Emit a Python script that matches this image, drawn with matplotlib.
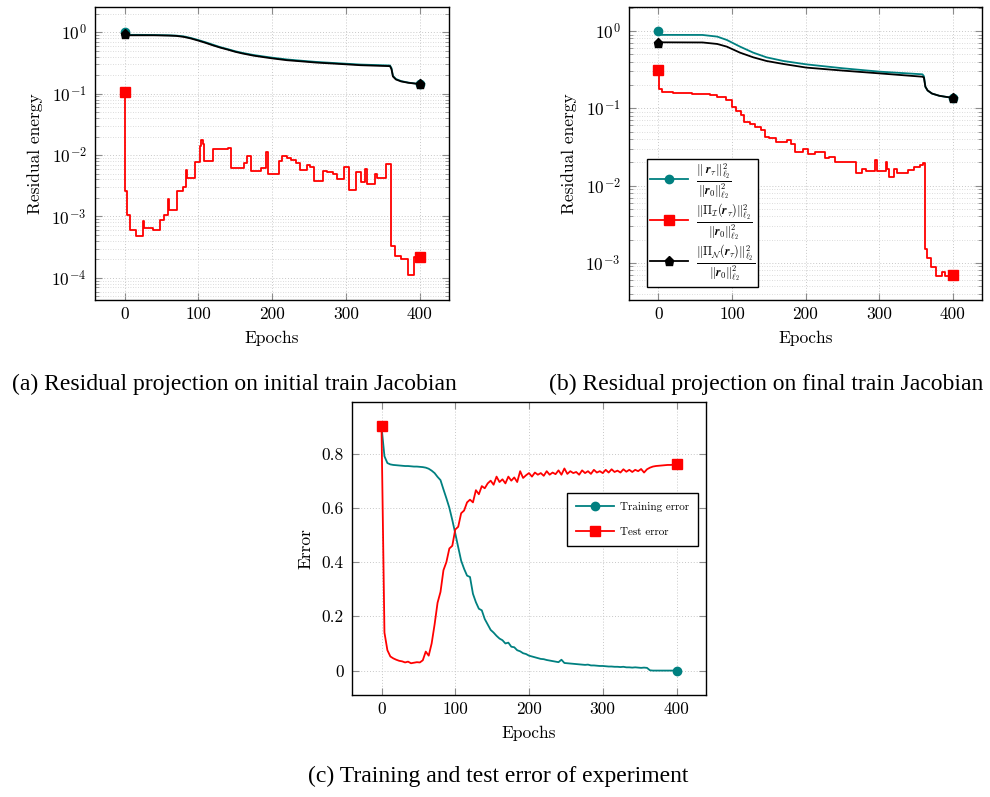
import matplotlib
matplotlib.use("Agg")
import matplotlib.pyplot as plt
from matplotlib.ticker import LogLocator, NullFormatter

plt.rcParams["font.family"] = "serif"
plt.rcParams["font.serif"] = ["cmr10"]
plt.rcParams["mathtext.fontset"] = "cm"
plt.rcParams["axes.formatter.use_mathtext"] = True

TEAL = "#008080"
RED = "#ff0000"
BLACK = "#000000"

# ---- (a) projection on the initial train Jacobian ----
a_full_epochs = [0, 1, 20, 40, 60, 70, 80, 90, 100, 110, 120, 130, 140, 150, 160, 175, 190,
                 200, 220, 240, 260, 280, 300, 320, 340, 360, 362, 364, 368, 375, 385, 400]
a_full_values = [1.0, 0.905, 0.905, 0.90, 0.89, 0.88, 0.855, 0.805, 0.745, 0.685, 0.625, 0.57,
                 0.53, 0.49, 0.46, 0.425, 0.40, 0.385, 0.36, 0.343, 0.328, 0.317, 0.307, 0.297,
                 0.292, 0.287, 0.26, 0.195, 0.173, 0.16, 0.151, 0.143]

a_null_epochs = [0, 1, 20, 40, 60, 70, 80, 90, 100, 110, 120, 130, 140, 150, 160, 175, 190,
                 200, 220, 240, 260, 280, 300, 320, 340, 360, 362, 364, 368, 375, 385, 400]
a_null_values = [0.92, 0.89, 0.89, 0.89, 0.88, 0.87, 0.84, 0.79, 0.73, 0.67, 0.61, 0.56,
                 0.52, 0.48, 0.45, 0.415, 0.39, 0.375, 0.35, 0.335, 0.32, 0.31, 0.30, 0.29,
                 0.285, 0.28, 0.25, 0.19, 0.17, 0.158, 0.15, 0.143]

a_img_epochs = [0, 1, 3, 7, 15, 25, 27, 38, 48, 53, 59, 60, 71, 79, 83, 85, 95, 102, 104, 106,
                108, 120, 130, 141, 144, 162, 166, 172, 185, 192, 195, 209, 214, 220, 226, 232,
                238, 248, 252, 257, 269, 275, 283, 288, 298, 304, 314, 320, 326, 329, 340, 343,
                354, 362, 367, 375, 385, 393, 400]
a_img_values = [0.105, 2.6e-3, 1.07e-3, 6.1e-4, 4.8e-4, 8.3e-4, 6.6e-4, 6.1e-4, 8.9e-4, 1.07e-3,
                1.9e-3, 1.26e-3, 2.6e-3, 3.0e-3, 5.8e-3, 4.2e-3, 7.7e-3, 1.4e-2, 1.73e-2, 1.5e-2,
                7.9e-3, 1.27e-2, 1.25e-2, 1.3e-2, 6.1e-3, 7.4e-3, 9.5e-3, 5.4e-3, 6.1e-3, 1.1e-2,
                5.0e-3, 8.1e-3, 9.8e-3, 9.0e-3, 8.3e-3, 7.5e-3, 5.8e-3, 6.8e-3, 6.3e-3, 3.8e-3,
                5.6e-3, 5.3e-3, 5.0e-3, 4.0e-3, 6.3e-3, 2.7e-3, 5.2e-3, 3.6e-3, 6.0e-3, 3.4e-3,
                5.0e-3, 4.3e-3, 7.2e-3, 3.3e-4, 2.3e-4, 2.0e-4, 1.1e-4, 2.2e-4, 2.2e-4]

# ---- (b) projection on the final train Jacobian ----
b_full_epochs = [0, 1, 60, 80, 93, 111, 129, 147, 170, 201, 251, 300, 359, 361, 363, 366, 372,
                 382, 392, 400]
b_full_values = [1.0, 0.89, 0.888, 0.845, 0.765, 0.627, 0.524, 0.456, 0.409, 0.37, 0.329, 0.298,
                 0.275, 0.26, 0.19, 0.17, 0.155, 0.145, 0.14, 0.137]

b_null_epochs = [0, 1, 60, 80, 93, 111, 129, 147, 170, 201, 251, 300, 359, 361, 363, 366, 372,
                 382, 392, 400]
b_null_values = [0.69, 0.713, 0.71, 0.679, 0.627, 0.524, 0.456, 0.409, 0.374, 0.336, 0.307, 0.283,
                 0.256, 0.25, 0.19, 0.17, 0.155, 0.145, 0.14, 0.137]

b_img_epochs = [0, 1, 5, 20, 45, 70, 80, 92, 100, 106, 112, 117, 125, 131, 140, 145, 150, 160,
                175, 180, 186, 196, 204, 213, 226, 232, 240, 268, 277, 282, 295, 297, 309, 311,
                314, 320, 324, 340, 348, 356, 360, 362, 365, 371, 378, 386, 390, 400]
b_img_values = [0.313, 0.176, 0.162, 0.158, 0.153, 0.149, 0.141, 0.128, 0.105, 0.092, 0.082,
                0.067, 0.062, 0.058, 0.052, 0.043, 0.041, 0.037, 0.039, 0.035, 0.0275, 0.030,
                0.026, 0.0275, 0.0225, 0.0236, 0.0204, 0.0144, 0.0162, 0.0156, 0.0215, 0.0156,
                0.0199, 0.0162, 0.0130, 0.0166, 0.0144, 0.0159, 0.0175, 0.0184, 0.0194, 0.0015,
                0.00115, 0.00088, 0.00068, 0.00077, 0.00068, 0.00069]

# ---- (c) training / test error, sampled every 4 epochs ----
c_epochs = list(range(0, 401, 4))
c_train = [0.900, 0.790, 0.765, 0.760, 0.758, 0.757, 0.756, 0.755, 0.754, 0.754,
           0.753, 0.752, 0.752, 0.751, 0.750, 0.748, 0.744, 0.737, 0.728, 0.714,
           0.702, 0.668, 0.635, 0.600, 0.555, 0.506, 0.455, 0.405, 0.375, 0.350,
           0.345, 0.283, 0.252, 0.228, 0.222, 0.190, 0.170, 0.150, 0.140, 0.128,
           0.118, 0.112, 0.100, 0.103, 0.088, 0.086, 0.075, 0.071, 0.064, 0.061,
           0.055, 0.052, 0.049, 0.046, 0.043, 0.042, 0.039, 0.037, 0.035, 0.033,
           0.031, 0.040, 0.028, 0.027, 0.026, 0.025, 0.024, 0.023, 0.022, 0.021,
           0.022, 0.019, 0.019, 0.018, 0.017, 0.017, 0.016, 0.015, 0.015, 0.014,
           0.014, 0.013, 0.014, 0.012, 0.012, 0.011, 0.012, 0.011, 0.010, 0.011,
           0.010, 0.001, 0.000, 0.000, 0.000, 0.000, 0.000, 0.000, 0.000, 0.000,
           0.000]
c_test = [0.900, 0.140, 0.075, 0.052, 0.045, 0.040, 0.036, 0.034, 0.030, 0.033,
          0.027, 0.029, 0.031, 0.030, 0.038, 0.070, 0.055, 0.100, 0.170, 0.250,
          0.290, 0.370, 0.400, 0.450, 0.460, 0.520, 0.530, 0.580, 0.590, 0.620,
          0.630, 0.620, 0.665, 0.650, 0.680, 0.672, 0.690, 0.700, 0.685, 0.715,
          0.695, 0.705, 0.690, 0.715, 0.700, 0.712, 0.695, 0.735, 0.710, 0.720,
          0.728, 0.715, 0.730, 0.722, 0.728, 0.718, 0.735, 0.722, 0.730, 0.724,
          0.738, 0.722, 0.745, 0.725, 0.735, 0.728, 0.732, 0.722, 0.738, 0.728,
          0.735, 0.725, 0.740, 0.730, 0.735, 0.728, 0.740, 0.730, 0.742, 0.732,
          0.737, 0.730, 0.742, 0.733, 0.740, 0.732, 0.740, 0.735, 0.743, 0.730,
          0.742, 0.748, 0.752, 0.754, 0.755, 0.756, 0.757, 0.758, 0.758, 0.759,
          0.760]

x_ticks = [0, 100, 200, 300, 400]
a_yticks = [1e-4, 1e-3, 1e-2, 1e-1, 1e0]
a_ylabels = [r"$10^{-4}$", r"$10^{-3}$", r"$10^{-2}$", r"$10^{-1}$", r"$10^{0}$"]
b_yticks = [1e-3, 1e-2, 1e-1, 1e0]
b_ylabels = [r"$10^{-3}$", r"$10^{-2}$", r"$10^{-1}$", r"$10^{0}$"]
c_yticks = [0, 0.2, 0.4, 0.6, 0.8]
c_ylabels = ["0", "0.2", "0.4", "0.6", "0.8"]

legend_b = [
    r"$\frac{\|\ \boldsymbol{r}_\tau\|_{\ell_2}^2}{\|\boldsymbol{r}_0\|_{\ell_2}^2}$",
    r"$\frac{\|\Pi_\mathcal{I}(\boldsymbol{r}_\tau)\|_{\ell_2}^2}{\|\boldsymbol{r}_0\|_{\ell_2}^2}$",
    r"$\frac{\|\Pi_\mathcal{N}(\boldsymbol{r}_\tau)\|_{\ell_2}^2}{\|\boldsymbol{r}_0\|_{\ell_2}^2}$",
]
legend_c = ["Training error", "Test error"]

W, H = 990, 797


def px_axes(fig, x0, y0, x1, y1):
    # pixel box (top-left origin) -> figure axes
    return fig.add_axes([x0 / W, 1 - y1 / H, (x1 - x0) / W, (y1 - y0) / H])


def style(ax, log=False):
    ax.set_xlim(-40, 440)
    ax.set_xticks(x_ticks)
    ax.set_xticklabels([str(t) for t in x_ticks])
    ax.tick_params(which="both", direction="in", top=True, right=True,
                   color="#8c8c8c", labelsize=12.5)
    ax.tick_params(axis="x", which="major", length=5, width=0.8, pad=5)
    ax.tick_params(axis="y", which="major", length=5, width=0.8, pad=6)
    ax.tick_params(which="minor", length=3, width=0.6)
    ax.grid(which="major", color="#c8c8c8", linestyle=(0, (1, 2)), linewidth=0.7)
    if log:
        ax.yaxis.set_minor_locator(LogLocator(base=10, subs=range(2, 10), numticks=50))
        ax.yaxis.set_minor_formatter(NullFormatter())
        ax.grid(which="minor", axis="y", color="#d0d0d0", linestyle=(0, (1, 2)), linewidth=0.6)
    ax.set_axisbelow(True)
    for s in ax.spines.values():
        s.set_linewidth(1.0)
    ax.set_xlabel("Epochs", fontsize=12.5, labelpad=6)


fig = plt.figure(figsize=(W / 100, H / 100), dpi=100)
lw = 1.3

# (a)
ax = px_axes(fig, 95, 7, 449, 300)
ax.set_yscale("log")
ax.plot(a_full_epochs, a_full_values, color=TEAL, lw=lw, marker="o", ms=6, markevery=[0, -1])
ax.plot(a_img_epochs, a_img_values, color=RED, lw=lw, drawstyle="steps-post",
        marker="s", ms=6.5, markevery=[0, -1])
ax.plot(a_null_epochs, a_null_values, color=BLACK, lw=lw, marker="p", ms=6.5, markevery=[0, -1])
ax.set_ylim(10 ** -4.36, 10 ** 0.41)
ax.set_yticks(a_yticks)
ax.set_yticklabels(a_ylabels)
style(ax, log=True)
ax.set_ylabel("Residual energy", fontsize=12.5, labelpad=6)

# (b)
ax = px_axes(fig, 629, 7, 982, 300)
ax.set_yscale("log")
h1, = ax.plot(b_full_epochs, b_full_values, color=TEAL, lw=lw, marker="o", ms=6, markevery=[0, -1])
h2, = ax.plot(b_img_epochs, b_img_values, color=RED, lw=lw, drawstyle="steps-post",
              marker="s", ms=6.5, markevery=[0, -1])
h3, = ax.plot(b_null_epochs, b_null_values, color=BLACK, lw=lw, marker="p", ms=6.5, markevery=[0, -1])
ax.set_ylim(10 ** -3.48, 10 ** 0.31)
ax.set_yticks(b_yticks)
ax.set_yticklabels(b_ylabels)
style(ax, log=True)
ax.set_ylabel("Residual energy", fontsize=12.5, labelpad=6)
leg = ax.legend([h1, h2, h3], legend_b, loc="upper left", bbox_to_anchor=(0.051, 0.48),
                fontsize=12.5, numpoints=1, handlelength=2.2, handletextpad=0.5,
                borderpad=0.15, labelspacing=0.05, borderaxespad=0.0, fancybox=False,
                framealpha=1, edgecolor="black")
leg.get_frame().set_linewidth(1.0)

# (c)
ax = px_axes(fig, 352, 402, 706, 695)
h1, = ax.plot(c_epochs, c_train, color=TEAL, lw=lw, marker="o", ms=6, markevery=[-1])
h2, = ax.plot(c_epochs, c_test, color=RED, lw=lw, marker="s", ms=6.5, markevery=[0, -1])
ax.set_ylim(-0.09, 0.99)
ax.set_yticks(c_yticks)
ax.set_yticklabels(c_ylabels)
style(ax)
ax.set_ylabel("Error", fontsize=12.5, labelpad=6)
leg = ax.legend([h1, h2], legend_c, loc="upper left", bbox_to_anchor=(0.607, 0.689),
                fontsize=8, numpoints=1, handlelength=3.4, handletextpad=0.6,
                borderpad=0.8, labelspacing=1.4, borderaxespad=0.0, fancybox=False,
                framealpha=1, edgecolor="black")
leg.get_frame().set_linewidth(1.0)

cap = dict(family="Liberation Serif", fontsize=17, ha="center", va="baseline")
fig.text(234 / W, 1 - 390 / H, "(a) Residual projection on initial train Jacobian", **cap)
fig.text(766 / W, 1 - 390 / H, "(b) Residual projection on final train Jacobian", **cap)
fig.text(498 / W, 1 - 782 / H, "(c) Training and test error of experiment", **cap)

fig.savefig("out.png", dpi=100)
